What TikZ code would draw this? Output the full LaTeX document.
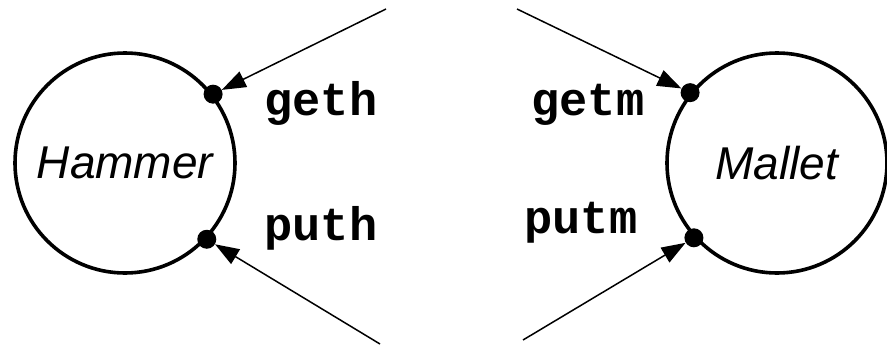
\documentclass[tikz,border=0pt]{standalone}
\usepackage{fontspec}
\setmainfont{Liberation Sans}
\setmonofont{Liberation Mono}
\usetikzlibrary{arrows.meta, positioning}

\tikzset{
  proc/.style={draw, circle, line width=3.6pt, minimum size=220pt, inner sep=0pt,
    font=\fontsize{46}{50}\selectfont\itshape},
  port/.style={fill, circle, minimum size=19pt, inner sep=0pt},
  act/.style={font=\fontsize{47}{50}\selectfont\ttfamily\bfseries, anchor=base},
  link/.style={line width=1.5pt, -{Triangle[length=24pt,width=17pt]}}
}

\begin{document}
\begin{tikzpicture}[x=1pt, y=-1pt]
\useasboundingbox (0,0) rectangle (887,346);
% the two processes
\node[proc] (hammer) at (125,163) {Hammer};
\node[proc] (mallet) at (777,163) {Mallet};
% ports on the circles
\node[port] (hget) at (hammer.38) {};
\node[port] (hput) at (hammer.-43) {};
\node[port] (mget) at (mallet.141) {};
\node[port] (mput) at (mallet.222) {};
% free ends of the links
\coordinate (hgetend) at (386,9);
\coordinate (hputend) at (380,344);
\coordinate (mgetend) at (517,9);
\coordinate (mputend) at (523,340);
\draw[link] (hgetend) -- (hget);
\draw[link] (hputend) -- (hput);
\draw[link] (mgetend) -- (mget);
\draw[link] (mputend) -- (mput);
% action names
\node[act] (geth) at (321,115) {geth};
\node[act] (puth) at (321,240) {puth};
\node[act] (getm) at (588,115) {getm};
\node[act] (putm) at (581,233) {putm};
\end{tikzpicture}
\end{document}
